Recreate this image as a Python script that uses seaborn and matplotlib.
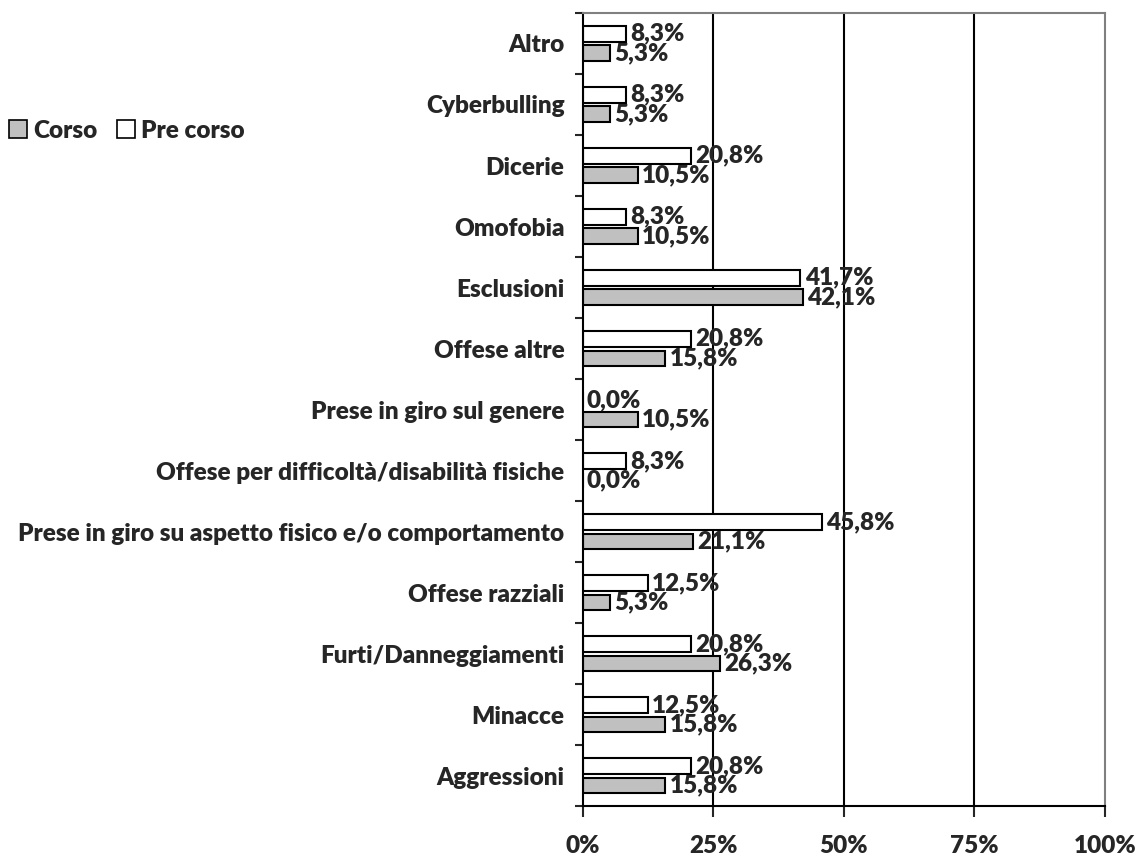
import matplotlib
matplotlib.use("Agg")
import matplotlib.pyplot as plt
import seaborn as sns
import pandas as pd
from matplotlib.patches import Patch

categories = ["Altro", "Cyberbulling", "Dicerie", "Omofobia", "Esclusioni",
              "Offese altre", "Prese in giro sul genere",
              "Offese per difficoltà/disabilità fisiche",
              "Prese in giro su aspetto fisico e/o comportamento",
              "Offese razziali", "Furti/Danneggiamenti", "Minacce", "Aggressioni"]
pre_corso = [8.3, 8.3, 20.8, 8.3, 41.7, 20.8, 0.0, 8.3, 45.8, 12.5, 20.8, 12.5, 20.8]
corso = [5.3, 5.3, 10.5, 10.5, 42.1, 15.8, 10.5, 0.0, 21.1, 5.3, 26.3, 15.8, 15.8]
series = ["Pre corso", "Corso"]
x_ticks = [0, 25, 50, 75, 100]

df = pd.DataFrame({
    "cat": categories * 2,
    "val": pre_corso + corso,
    "serie": [series[0]] * len(categories) + [series[1]] * len(categories),
})

sns.set_style("white")
plt.rcParams["font.family"] = ["Lato", "DejaVu Sans"]
W = "heavy"
plt.rcParams["font.weight"] = W
FS = 17.5

fig = plt.figure(figsize=(11.38, 8.65), dpi=100)
ax = fig.add_axes([0.512, 0.068, 0.459, 0.917])

colors = {"Pre corso": "white", "Corso": "#c0c0c0"}
sns.barplot(data=df, y="cat", x="val", hue="serie", hue_order=series,
            palette=colors, orient="h", width=0.64, edgecolor="black",
            linewidth=1.5, ax=ax, legend=False)

# leave a small gap between the two bars of each group
for p in ax.patches:
    h = p.get_height()
    p.set_y(p.get_y() + h * 0.1)
    p.set_height(h * 0.8)

for cont in ax.containers:
    ax.bar_label(cont, labels=[f"{v:.1f}%".replace(".", ",") for v in cont.datavalues],
                 padding=3, fontsize=FS, fontweight=W)

ax.set_xlim(0, 100)
ax.set_ylim(len(categories) - 0.5, -0.5)
ax.set_xticks(x_ticks)
ax.set_xticklabels([f"{t}%" for t in x_ticks], fontsize=FS, fontweight=W)
ax.tick_params(axis="x", length=8, width=1.5, pad=13, direction="out", bottom=True)
ax.tick_params(axis="y", which="major", length=0, pad=13, labelsize=FS)
ax.set_yticks([i - 0.5 for i in range(len(categories) + 1)], minor=True)
ax.tick_params(axis="y", which="minor", length=6, width=1.5, left=True)
for lbl in ax.get_yticklabels():
    lbl.set_fontweight(W)
ax.set_xlabel("")
ax.set_ylabel("")

for x in x_ticks[1:-1]:
    ax.axvline(x, color="black", lw=1.5, zorder=0)

for s in ["left", "bottom"]:
    ax.spines[s].set_color("black")
    ax.spines[s].set_linewidth(1.5)
for s in ["top", "right"]:
    ax.spines[s].set_color("#808080")
    ax.spines[s].set_linewidth(1.5)

handles = [Patch(facecolor="#c0c0c0", edgecolor="black", lw=1.2),
           Patch(facecolor="white", edgecolor="black", lw=1.2)]
fig.legend(handles, ["Corso", "Pre corso"], loc="center left",
           bbox_to_anchor=(0.008, 0.849), ncol=2, frameon=False, borderpad=0,
           borderaxespad=0, prop={"size": FS, "weight": W}, handlelength=0.75,
           handleheight=0.75, handletextpad=0.25, columnspacing=0.8)

fig.savefig("out.png", dpi=100)
